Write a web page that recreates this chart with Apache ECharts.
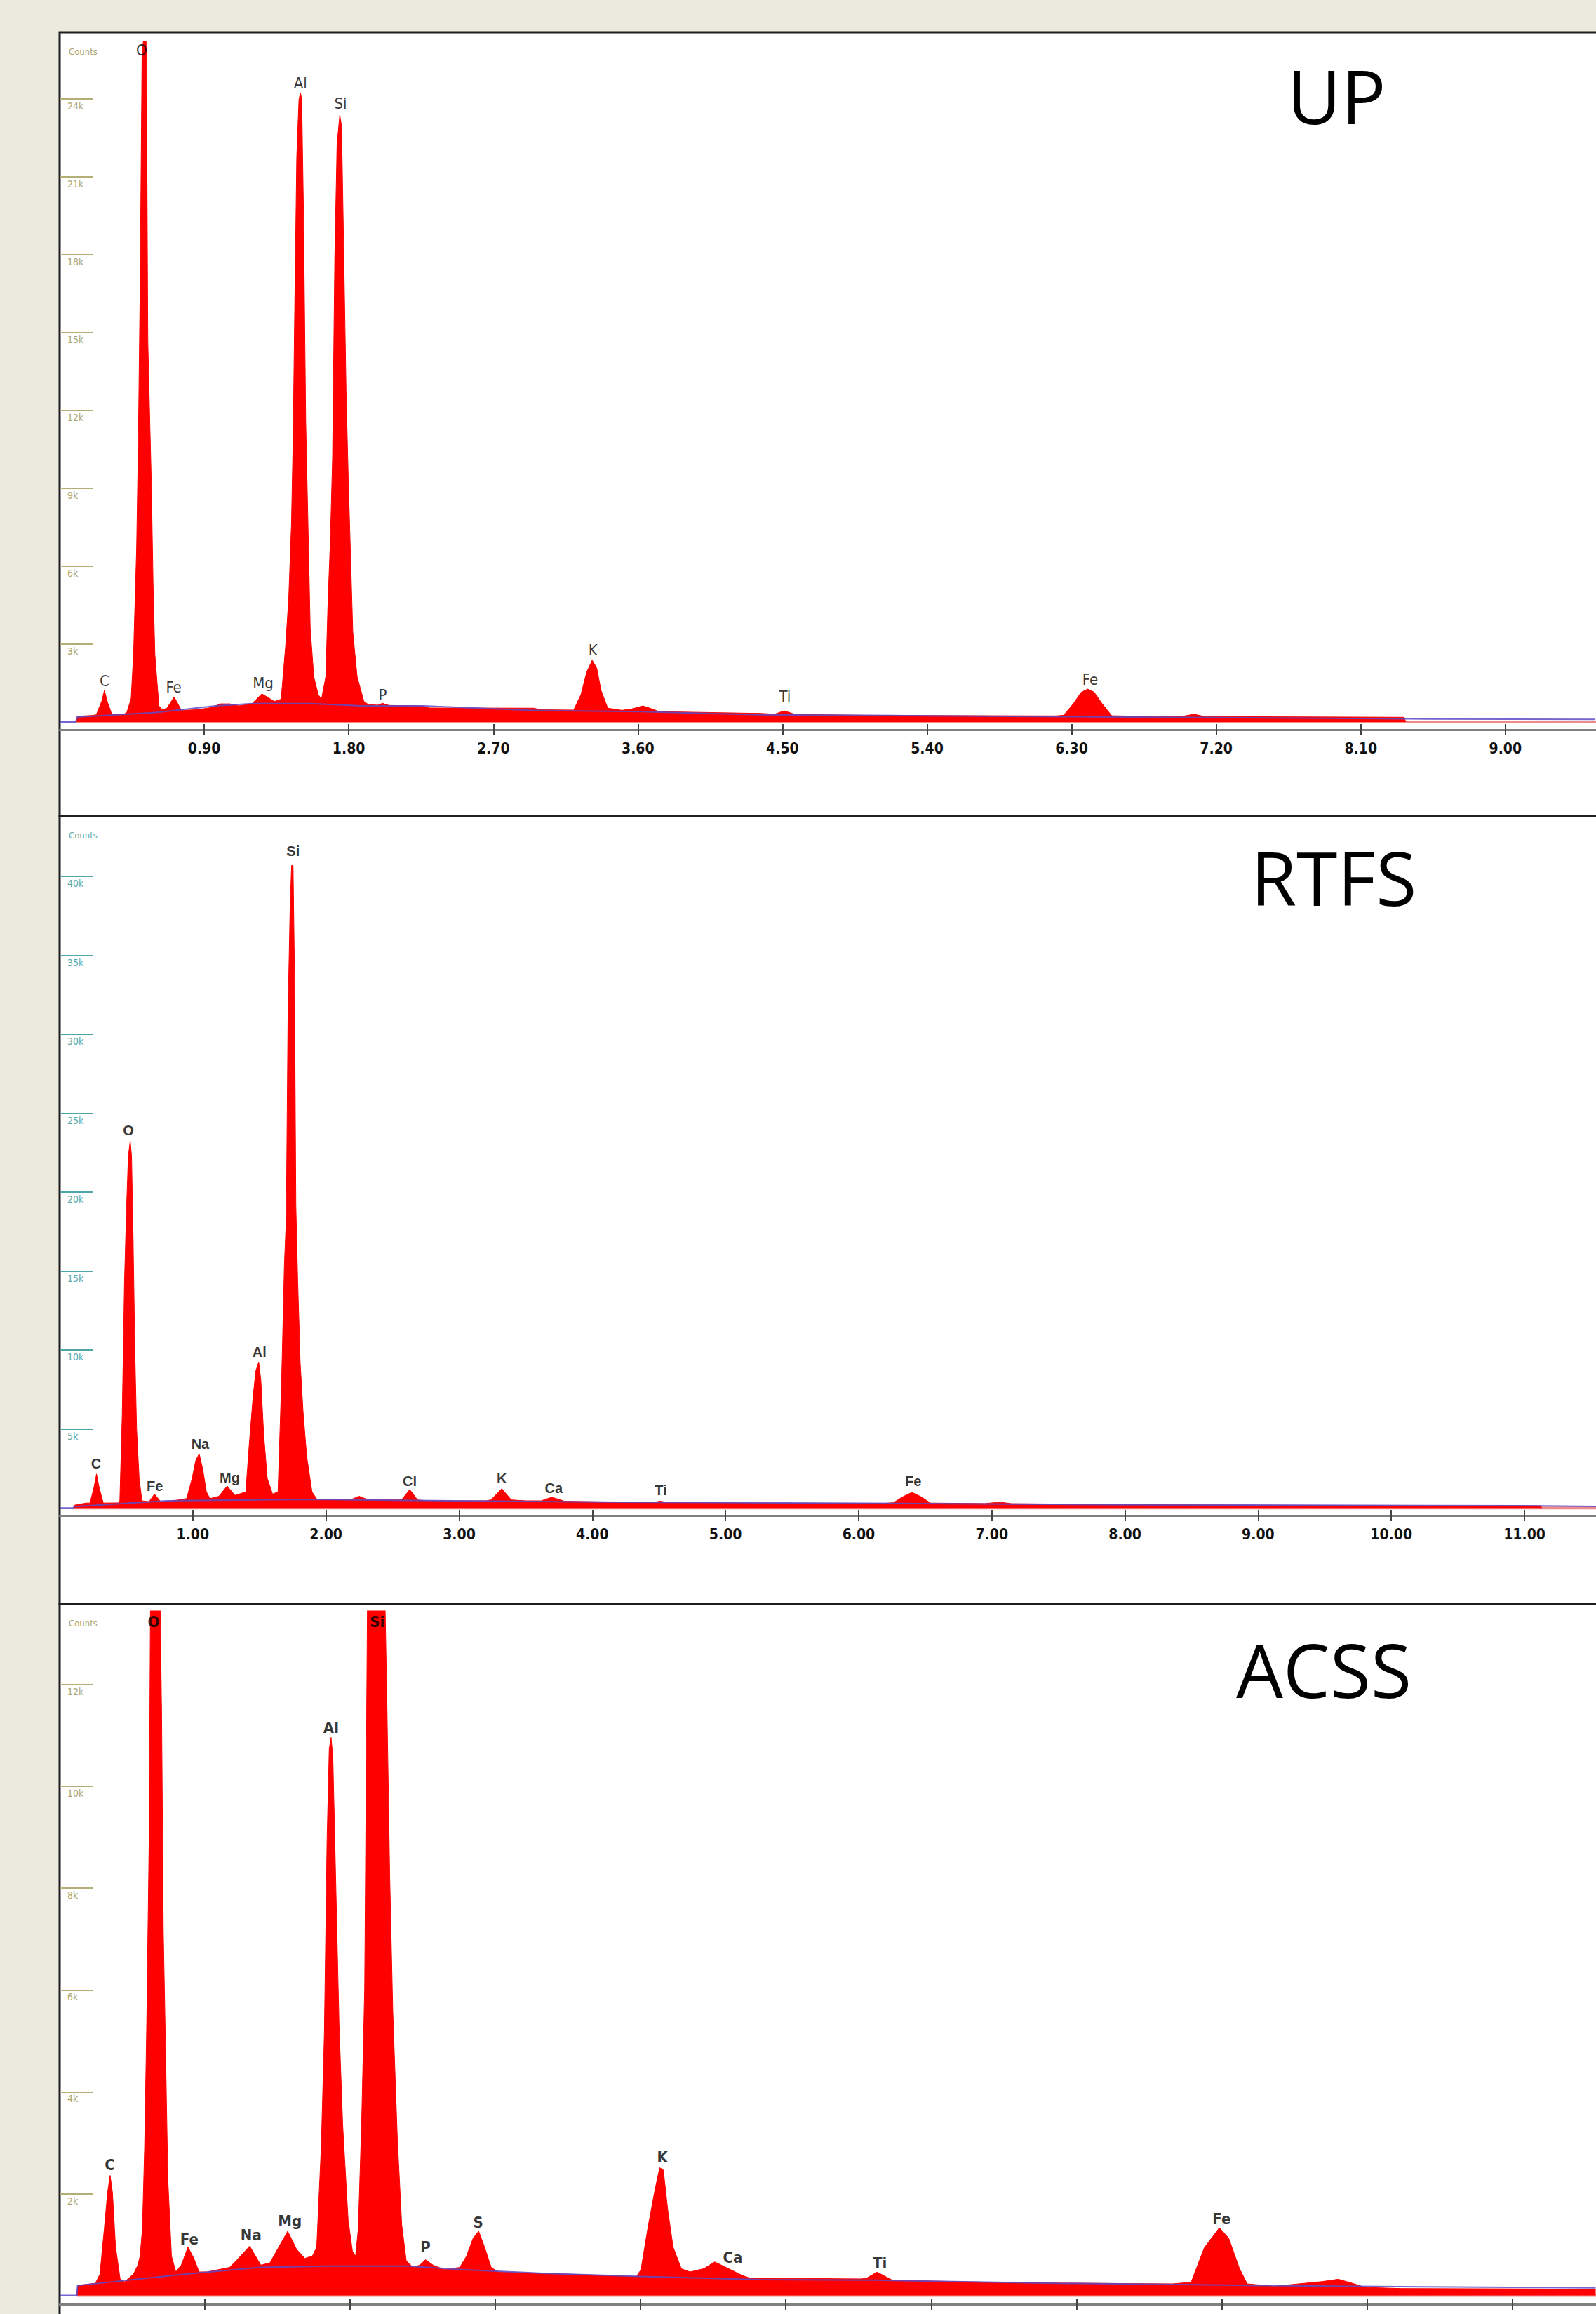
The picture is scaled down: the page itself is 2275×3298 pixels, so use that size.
<!DOCTYPE html>
<html><head><meta charset="utf-8">
<script src="https://cdn.jsdelivr.net/npm/echarts@6/dist/echarts.min.js"></script>
<style>html,body{margin:0;padding:0;background:#ECE9DF;} #c{width:2275px;height:3298px;}</style>
</head><body><div id="c"></div>
<script>
// ---------------- DATA (energy keV, counts) ----------------
const upSpectrum = [
 [0.105,0],[0.11,220],[0.20,250],
 [0.228,276],[0.262,800],[0.279,1224],[0.296,800],[0.326,276],[0.40,300],
 [0.418,362],[0.445,900],[0.46,2600],[0.479,6650],[0.49,10800],[0.501,16740],[0.513,25700],[0.521,26220],[0.538,26220],[0.540,25700],[0.549,14670],[0.571,9150],[0.582,5190],[0.593,2600],[0.618,620],[0.64,470],
 [0.668,534],[0.713,965],[0.758,448],
 [0.85,470],[0.95,560],[1.00,700],[1.06,700],[1.114,620],[1.198,707],
 [1.259,1086],[1.337,793],
 [1.379,879],[1.407,2948],[1.426,4758],[1.443,7603],[1.454,11051],[1.462,15188],[1.476,21740],[1.490,23981],[1.499,24240],[1.507,23981],[1.518,19671],[1.532,11568],[1.546,7603],[1.560,3638],[1.582,1741],[1.610,1052],[1.630,879],
 [1.657,1741],[1.671,4672],[1.685,6913],[1.699,10189],[1.713,17947],[1.727,22257],[1.744,23378],[1.755,22946],[1.769,17947],[1.783,12775],[1.797,9327],[1.811,6396],[1.825,3465],[1.852,1741],[1.894,793],[1.922,672],
 [1.98,650],[2.01,720],[2.05,640],
 [2.26,620],[2.30,540],[2.95,534],[3.0,470],[3.2,460],
 [3.203,500],[3.245,1052],[3.281,1914],[3.315,2379],[3.343,2086],[3.37,1224],[3.412,534],
 [3.50,450],[3.56,500],[3.63,620],[3.70,480],[3.73,400],[4.37,330],
 [4.45,300],[4.51,430],[4.58,290],
 [5.0,260],[5.8,240],[6.2,235],
 [6.25,260],[6.31,700],[6.36,1150],[6.40,1270],[6.44,1150],[6.49,700],[6.55,240],
 [6.9,205],[7.0,230],[7.06,300],[7.13,210],[8.0,190],[8.37,180],[8.38,0]
];
const upBackground = [[0,0],[0.10,0],[0.11,190],[0.60,362],[0.97,620],[1.2,707],[1.56,707],[1.89,620],[2.26,620],[2.95,448],[3.62,397],[4.37,276],[5.4,240],[6.3,200],[7.2,170],[8.4,120],[9.56,100]];
const upPeakNames  = ['C','O','Fe','Mg','Al','Si','P','K','Ti','Fe'];
const upPeakKeV    = [0.279,0.51,0.710,1.267,1.499,1.749,2.011,3.32,4.515,6.415];
const upPeakCounts = [1576,25880,1325,1487,24597,23813,1054,2784,987,1622];
const upXTicks = [0.9,1.8,2.7,3.6,4.5,5.4,6.3,7.2,8.1,9.0];
const upYTicks = [3000,6000,9000,12000,15000,18000,21000,24000];

const rtfsSpectrum = [
 [0.105,0],[0.108,170],[0.2,312],
 [0.228,312],[0.258,1300],[0.277,2154],[0.296,1300],[0.328,312],[0.44,320],
 [0.452,453],[0.47,5838],[0.487,14340],[0.503,19158],[0.516,22275],[0.530,23267],[0.540,22275],[0.551,17457],[0.565,9806],[0.578,4988],[0.597,1870],[0.618,453],
 [0.672,397],[0.712,879],[0.758,397],
 [0.85,453],[0.954,595],
 [0.995,1870],[1.022,3004],[1.048,3429],[1.075,2437],[1.102,1020],[1.129,595],
 [1.196,737],[1.258,1389],[1.317,794],
 [1.398,1020],[1.425,4138],[1.452,6972],[1.473,8672],[1.495,9239],[1.511,8105],[1.532,4704],[1.559,1870],[1.599,879],
 [1.640,1020],[1.667,8105],[1.688,15474],[1.702,18308],[1.715,31344],[1.731,38146],[1.742,40697],[1.753,40697],[1.763,34178],[1.774,19158],[1.788,14340],[1.806,9239],[1.828,6121],[1.855,3287],[1.895,1020],[1.935,510],
 [2.18,510],[2.25,737],[2.32,510],
 [2.567,510],[2.629,1162],[2.688,510],
 [2.75,453],[3.2,453],
 [3.239,510],[3.32,1219],[3.392,510],
 [3.5,453],
 [3.616,453],[3.696,680],[3.79,430],
 [4.2,368],[4.45,350],[4.51,430],[4.58,340],[5.5,300],[6.2,300],
 [6.26,330],[6.33,700],[6.40,987],[6.47,700],[6.54,310],
 [6.95,280],[7.06,370],[7.15,270],[8.0,220],[9.0,170],[10.0,150],[11.12,140],[11.13,0]
];
const rtfsBackground = [[0,0],[0.105,0],[0.108,85],[0.806,453],[1.88,538],[2.96,453],[4.2,368],[6.0,300],[8.0,200],[11.0,140],[11.54,100]];
const rtfsPeakNames  = ['C','O','Fe','Na','Mg','Al','Si','Cl','K','Ca','Ti','Fe'];
const rtfsPeakKeV    = [0.274,0.516,0.715,1.056,1.277,1.500,1.753,2.629,3.320,3.710,4.515,6.410];
const rtfsPeakCounts = [2818,23920,1400,4062,1938,9876,41622,1684,1876,1253,1138,1698];
const rtfsXTicks = [1,2,3,4,5,6,7,8,9,10,11];
const rtfsYTicks = [5000,10000,15000,20000,25000,30000,35000,40000];

const acssSpectrum = [
 [0.095,0],[0.099,196],[0.197,240],
 [0.222,418],[0.246,1308],[0.264,2020],[0.278,2358],[0.291,2020],[0.308,952],[0.333,329],[0.357,267],
 [0.406,418],[0.431,596],
 [0.443,774],[0.456,1308],[0.468,2910],[0.480,5401],[0.493,8960],[0.500,13450],[0.527,15500],[0.554,13450],[0.562,11363],[0.571,7181],[0.584,4689],[0.596,2287],[0.616,774],[0.640,463],
 [0.670,596],[0.707,952],[0.739,730],[0.768,463],
 [0.813,463],[0.936,552],
 [0.973,685],[1.047,970],[1.108,596],[1.158,640],
 [1.207,952],[1.256,1263],[1.305,908],[1.350,730],[1.392,774],
 [1.416,952],[1.441,2910],[1.458,5134],[1.473,8960],[1.485,10740],[1.495,10962],[1.505,10562],[1.520,8248],[1.539,5312],[1.559,3354],[1.589,1486],[1.613,863],[1.630,774],
 [1.645,1308],[1.663,3354],[1.680,6024],[1.695,13450],[1.744,16500],[1.793,13450],[1.803,11541],[1.818,8248],[1.835,5579],[1.860,3088],[1.884,1397],[1.909,685],
 [1.946,552],
 [1.983,596],[2.015,703],[2.057,596],
 [2.118,507],[2.204,552],
 [2.241,774],[2.278,1130],[2.308,1263],[2.340,952],[2.377,552],[2.414,463],
 [2.66,436],[3.177,374],
 [3.202,507],[3.239,1308],[3.276,2020],[3.305,2509],[3.325,2465],[3.350,1664],[3.379,952],[3.424,525],[3.473,463],
 [3.547,525],[3.608,660],[3.670,552],[3.756,400],[3.80,343],
 [4.415,325],
 [4.444,340],[4.502,459],[4.587,300],
 [4.93,274],[5.27,251],[6.128,228],
 [6.232,260],[6.305,941],[6.388,1331],[6.439,1125],[6.498,532],[6.541,228],
 [6.69,182],[6.955,274],[7.043,320],[7.131,228],[7.19,159],[7.39,136],[8.0,130],[8.46,120]
];
const acssBackground = [[0,0],[0.095,0],[0.099,196],[0.739,436],[1.108,552],[1.478,578],[1.921,578],[2.217,507],[2.66,436],[3.2,374],[3.862,311],[4.5,300],[5.5,240],[6.5,200],[7.5,170],[8.46,150]];
const acssPeakNames  = ['C','O','Fe','Na','Mg','Al','Si','P','S','K','Ca','Ti','Fe'];
const acssPeakKeV    = [0.276,0.517,0.714,1.054,1.268,1.495,1.749,2.015,2.305,3.320,3.707,4.517,6.400];
const acssPeakCounts = [2572,13231,1103,1192,1459,11158,13231,952,1441,2714,747,642,1501];
const acssXTicks = [0.8,1.6,2.4,3.2,4.0,4.8,5.6,6.4,7.2,8.0];
const acssYTicks = [2000,4000,6000,8000,10000,12000];

const panelTitles = ['UP','RTFS','ACSS'];

// ---------------- LAYOUT / STYLE ----------------
const NARROW = "'Liberation Sans Narrow','DejaVu Sans Condensed','Arial Narrow',sans-serif";
const panels = [
 {title:panelTitles[0], spec:upSpectrum, bg:upBackground, names:upPeakNames, pk:upPeakKeV, pc:upPeakCounts, xt:upXTicks, yt:upYTicks,
  gTop:46, gBottomY:1040, fTop:46, fBot:1163, ymin:-297, ymax:26568, xmax:9.564, tick:'#B3AE76', lab:'#ABA670', showX:true,
  tx:1900, ty:131, pf:{fontFamily:NARROW, fontSize:22, fontWeight:'normal'}},
 {title:panelTitles[1], spec:rtfsSpectrum, bg:rtfsBackground, names:rtfsPeakNames, pk:rtfsPeakKeV, pc:rtfsPeakCounts, xt:rtfsXTicks, yt:rtfsYTicks,
  gTop:1163, gBottomY:2160, fTop:1163, fBot:2286, ymin:-480, ymax:43831, xmax:11.537, tick:'#4FA6A6', lab:'#5AAAAA', showX:true,
  tx:1896, ty:1245, pf:{fontFamily:"'Liberation Sans',Arial,sans-serif", fontSize:20, fontWeight:'bold'}},
 {title:panelTitles[2], spec:acssSpectrum, bg:acssBackground, names:acssPeakNames, pk:acssPeakKeV, pc:acssPeakCounts, xt:acssXTicks, yt:acssYTicks,
  gTop:2296, gBottomY:3284, fTop:2286, fBot:3310, ymin:-171, ymax:13448, xmax:8.462, tick:'#B3AE76', lab:'#ABA670', showX:false,
  tx:1882, ty:2374, pf:{fontFamily:NARROW, fontSize:22, fontWeight:'bold'}}
];

const option = {backgroundColor:'#ECE9DF', animation:false, grid:[], xAxis:[], yAxis:[], series:[], title:[], graphic:[]};

panels.forEach((p,i)=>{
  option.graphic.push({type:'rect', z:-10, shape:{x:85, y:p.fTop, width:2300, height:p.fBot-p.fTop},
    style:{fill:'#FFFFFF', stroke:'#1E1E1E', lineWidth:3}});
  option.grid.push({left:85, right:0, top:p.gTop, height:p.gBottomY-p.gTop, containLabel:false});
  option.xAxis.push({gridIndex:i, type:'value', min:0, max:p.xmax, position:'bottom',
    axisLine:{show:true, onZero:false, lineStyle:{color:'#808080', width:3}},
    axisTick:{show:true, customValues:p.xt, length:8, lineStyle:{color:'#444', width:2}},
    axisLabel:{show:p.showX, customValues:p.xt, formatter:v=>v.toFixed(2), margin:16, color:'#111',
      fontFamily:NARROW, fontSize:21, fontWeight:'bold'},
    splitLine:{show:false}});
  option.xAxis.push({gridIndex:i, type:'value', min:0, max:p.xmax, position:'bottom',
    axisLine:{show:false, onZero:false},
    axisTick:{show:true, inside:true, customValues:p.xt, length:8, lineStyle:{color:'#444', width:2}},
    axisLabel:{show:false}, splitLine:{show:false}});
  option.yAxis.push({gridIndex:i, type:'value', min:p.ymin, max:p.ymax,
    axisLine:{show:false},
    axisTick:{show:true, inside:true, customValues:p.yt, length:48, lineStyle:{color:p.tick, width:2}},
    axisLabel:{show:true, inside:true, customValues:p.yt, formatter:v=>(v/1000)+'k', margin:11,
      verticalAlign:'top', padding:[3,0,0,0], color:p.lab, fontFamily:NARROW, fontSize:14},
    splitLine:{show:false}});
  option.title.push({text:'Counts', left:93, top:p.fTop+22, textAlign:'left', textVerticalAlign:'middle',
    textStyle:{color:p.lab, fontFamily:NARROW, fontSize:13, fontWeight:'normal'}});
  option.title.push({text:p.title, left:p.tx, top:p.ty, textAlign:'center', textVerticalAlign:'middle',
    textStyle:{color:'#000', fontFamily:"'Open Sans',sans-serif", fontSize:106, fontWeight:'normal'}});
  const xi = i*2;
  option.series.push({type:'line', xAxisIndex:xi, yAxisIndex:i, z:2, silent:true, showSymbol:false,
    data:[[p.spec[0][0],0],[p.xmax,0]], lineStyle:{color:'#EE8A8A', width:4}});
  option.series.push({type:'line', xAxisIndex:xi, yAxisIndex:i, z:3, silent:true, showSymbol:false, clip:true,
    data:p.spec, lineStyle:{color:'#FF0000', width:1}, areaStyle:{color:'#FF0000', opacity:1, origin:0}});
  option.series.push({type:'line', xAxisIndex:xi, yAxisIndex:i, z:4, silent:true, showSymbol:false,
    data:p.bg, lineStyle:{color:'#5B4BC8', width:2, opacity:0.85}});
  option.series.push({type:'scatter', xAxisIndex:xi, yAxisIndex:i, z:6, silent:true, symbolSize:0,
    data:p.names.map((n,k)=>({name:n, value:[p.pk[k], p.pc[k]]})),
    label:{show:true, position:'inside', formatter:q=>q.name, color:'#000', ...p.pf}});
});

const chart = echarts.init(document.getElementById('c'), null, {renderer:'svg', width:2275, height:3298});
chart.setOption(option);
</script></body></html>
